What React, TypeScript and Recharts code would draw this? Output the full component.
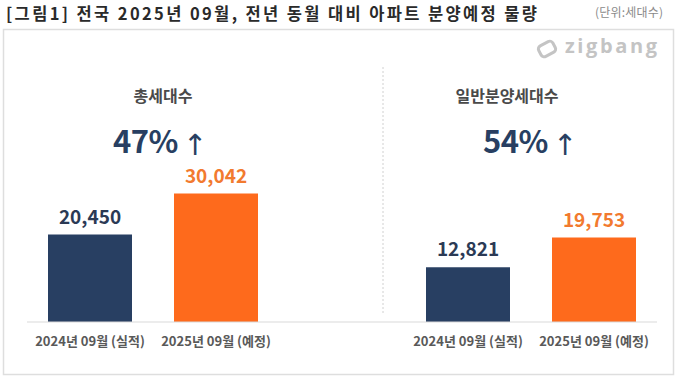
import React from 'react';
import { BarChart, Bar, XAxis, YAxis, Cell, LabelList } from 'recharts';

// ---- data ----
const groupNames = ['총세대수', '일반분양세대수'];
const periodLabels = ['2024년 09월 (실적)', '2025년 09월 (예정)'];
const totalUnits = [20450, 30042];
const generalUnits = [12821, 19753];
const growthLabels = ['47%', '54%'];
const titleText = '[그림1] 전국 2025년 09월, 전년 동월 대비 아파트 분양예정 물량';
const unitText = '(단위:세대수)';
const yDomain = [0, 40000];

// ---- styles ----
const FONT = "'Noto Sans CJK KR', 'Noto Sans', sans-serif";
const barColors = ['#283f62', '#fe6a1c'];
const labelColors = ['#2b3a55', '#f27a2f'];
const navy = '#283f62';

// chart rows built from the arrays (middle slot is an empty spacer between the two groups)
const chartData = [
  { key: 't0', label: periodLabels[0], value: totalUnits[0], p: 0 },
  { key: 't1', label: periodLabels[1], value: totalUnits[1], p: 1 },
  { key: 'gap', label: '', value: null as number | null, p: -1 },
  { key: 'g0', label: periodLabels[0], value: generalUnits[0], p: 0 },
  { key: 'g1', label: periodLabels[1], value: generalUnits[1], p: 1 },
];
const labelByKey: Record<string, string> = {};
chartData.forEach((d) => (labelByKey[d.key] = d.label));

// header positions for the two groups
const headerLayout = [
  { nameX: 163, growthX: 113 },
  { nameX: 507, growthX: 483 },
];

const ValueLabel = (props: any) => {
  const vb = props.viewBox || {};
  const x = props.x ?? vb.x;
  const y = props.y ?? vb.y;
  const width = props.width ?? vb.width;
  const value = props.value;
  if (value == null || x == null) return null;
  const entry = chartData.find((d) => d.value === value);
  const color = entry ? labelColors[entry.p] : labelColors[0];
  return (
    <text
      x={x + width / 2}
      y={y - 11}
      textAnchor="middle"
      fill={color}
      fontSize={19}
      fontWeight={700}
      fontFamily={FONT}
    >
      {Number(value).toLocaleString('en-US')}
    </text>
  );
};

export default function App() {
  return (
    <div
      style={{
        position: 'absolute',
        left: 0,
        top: 0,
        width: 680,
        height: 380,
        background: '#ffffff',
        fontFamily: FONT,
      }}
    >
      <svg width={680} height={380} style={{ position: 'absolute', left: 0, top: 0 }}>
        <text
          x={6}
          y={19.5}
          fontSize={16.5}
          fontWeight={700}
          fill="#2a2a2a"
          fontFamily={FONT}
          textLength={531}
        >
          {titleText}
        </text>
        <text x={595} y={17} fontSize={12} fill="#8a8a8a" fontFamily={FONT} textLength={68}>
          {unitText}
        </text>
        <rect x={3.5} y={29.5} width={670} height={345} fill="none" stroke="#dedede" strokeWidth={1.5} />
        {/* logo */}
        <g transform="translate(547 49) rotate(-28)" fill="none" stroke="#c4c4c4" strokeWidth={3}>
          <rect x={-8} y={-6} width={16} height={12} rx={3.5} />
        </g>
        <text
          x={565}
          y={53}
          fontSize={20}
          fontWeight={700}
          fill="#c4c4c4"
          fontFamily="'Open Sans', 'Noto Sans', sans-serif"
          textLength={92}
        >
          zigbang
        </text>
        <line x1={383} y1={67} x2={383} y2={313} stroke="#d0d0d0" strokeWidth={1} strokeDasharray="2 2" />
        {groupNames.map((name, i) => (
          <g key={name}>
            <text
              x={headerLayout[i].nameX}
              y={102}
              textAnchor="middle"
              fontSize={16}
              fontWeight={700}
              fill="#4a4a4a"
              fontFamily={FONT}
            >
              {name}
            </text>
            <text
              x={headerLayout[i].growthX}
              y={153}
              fontSize={31}
              fontWeight={700}
              fill={navy}
              fontFamily={FONT}
              letterSpacing={-0.5}
            >
              {growthLabels[i]}
              <tspan dx={5} dy={2} fontSize={29} fontWeight={400} fontFamily="'DejaVu Sans', sans-serif" letterSpacing={0}>
                ↑
              </tspan>
            </text>
          </g>
        ))}
      </svg>
      <div style={{ position: 'absolute', left: 0, top: 0 }}>
        <BarChart
          width={680}
          height={380}
          data={chartData}
          margin={{ top: 151, right: 23, bottom: 28, left: 27 }}
          barSize={84}
        >
          <YAxis hide domain={yDomain} />
          <XAxis
            dataKey="key"
            tickFormatter={(v: string) => labelByKey[v] ?? ''}
            interval={0}
            height={30}
            axisLine={{ stroke: '#d9d9d9' }}
            tickLine={false}
            tickMargin={9}
            tick={{ fill: '#595959', fontSize: 13, fontWeight: 700, fontFamily: FONT }}
          />
          <Bar dataKey="value" isAnimationActive={false}>
            {chartData.map((d) => (
              <Cell key={d.key} fill={d.p >= 0 ? barColors[d.p] : 'transparent'} />
            ))}
            <LabelList dataKey="value" content={<ValueLabel />} />
          </Bar>
        </BarChart>
      </div>
    </div>
  );
}
